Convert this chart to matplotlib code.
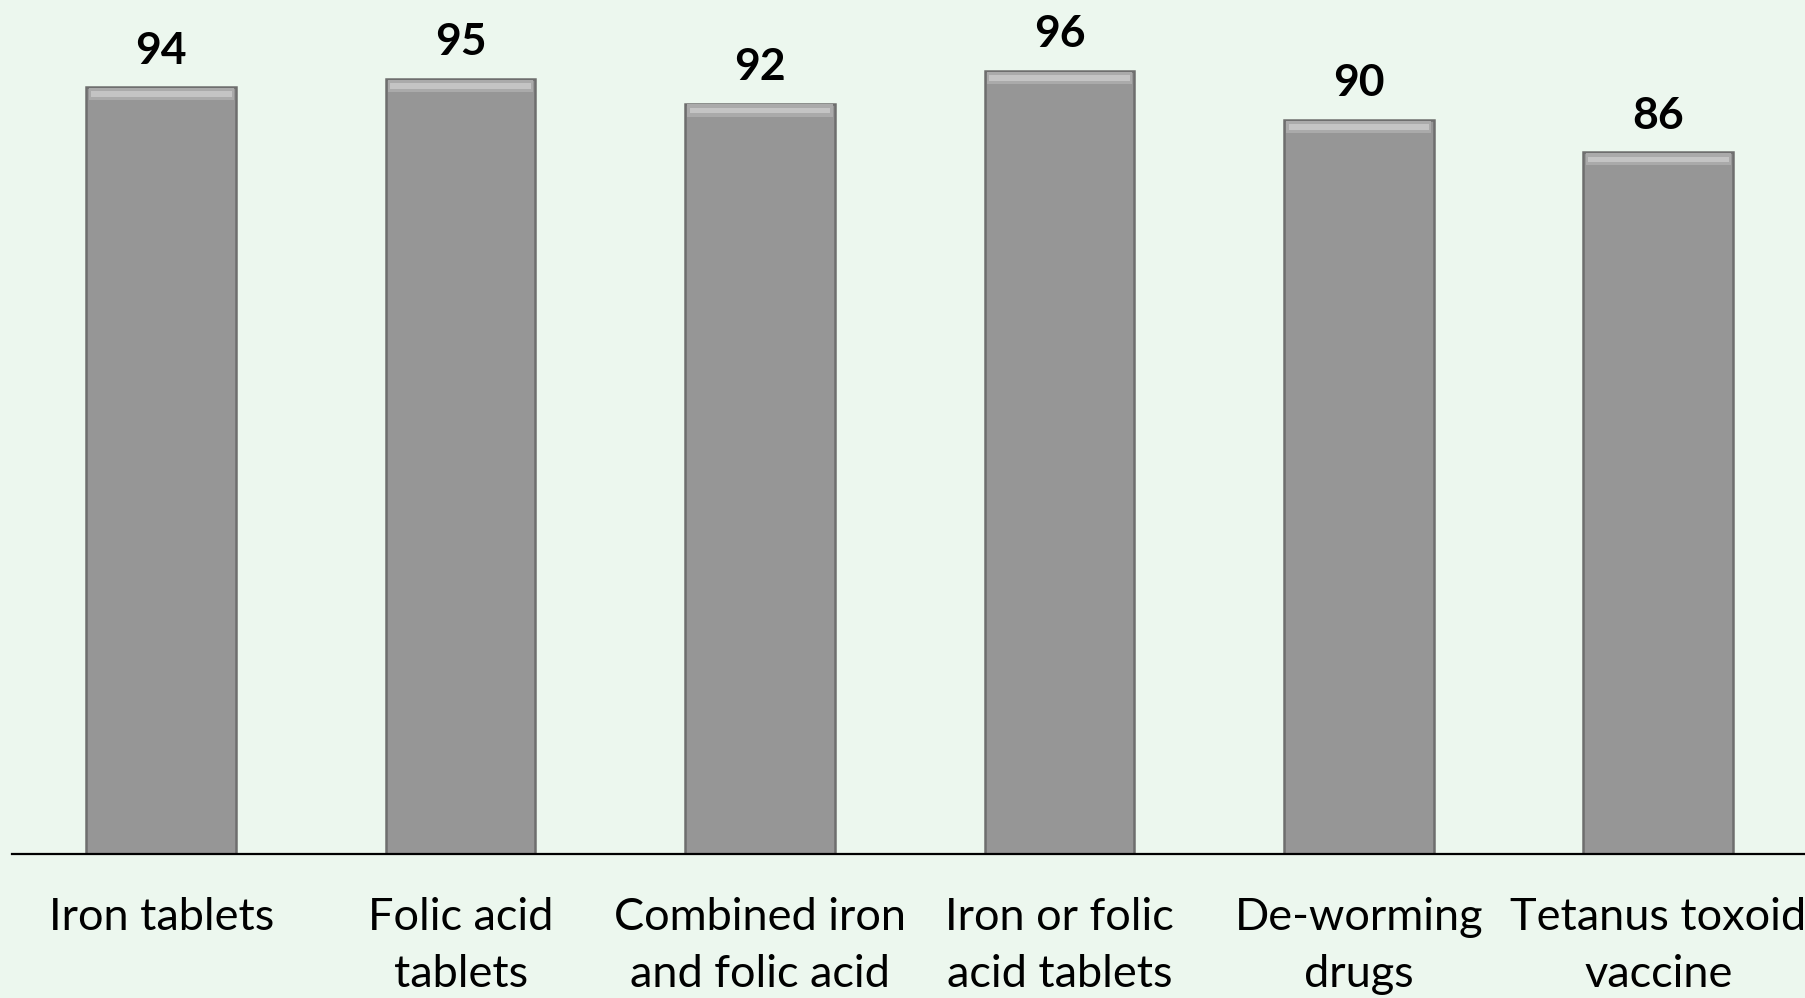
import matplotlib
matplotlib.use("Agg")
import matplotlib.pyplot as plt
import numpy as np

categories = ["Iron tablets", "Folic acid\ntablets", "Combined iron\nand folic acid",
              "Iron or folic\nacid tablets", "De-worming\ndrugs", "Tetanus toxoid\nvaccine"]
values = [94, 95, 92, 96, 90, 86]

plt.rcParams['font.family'] = ['Lato', 'DejaVu Sans']

bg = '#ecf7ee'
fig = plt.figure(figsize=(18.06, 9.98), dpi=100, facecolor=bg)
ax = fig.add_axes([11.5 / 1806, 144.5 / 998, 1796.5 / 1806, 853.5 / 998])
ax.set_facecolor(bg)

x = np.arange(len(values))
vals = np.array(values, dtype=float)

# main bars
ax.bar(x, vals, width=0.5, color='#969696', edgecolor='#6e6e6e', linewidth=1.8, zorder=2)
# soft bevel highlight along the top of each bar
ax.bar(x, 1.5, bottom=vals - 1.6, width=0.485, color='#aaaaaa', linewidth=0, zorder=3)
ax.bar(x, 0.7, bottom=vals - 1.2, width=0.47, color='#c4c4c4', linewidth=0, zorder=3)

for xi, v in zip(x, values):
    ax.annotate(str(v), (xi, v), xytext=(0, 17), textcoords='offset points',
                ha='center', va='baseline', fontsize=32, fontweight='bold', color='black')

ax.set_xlim(-0.5, 5.5)
ax.set_ylim(0, 104.7)
ax.set_xticks(x)
ax.set_xticklabels(categories, fontsize=32.5, linespacing=1.5)
ax.tick_params(axis='x', length=0, pad=31)
ax.set_yticks([])
for s in ['top', 'right', 'left']:
    ax.spines[s].set_visible(False)
ax.spines['bottom'].set_linewidth(1.6)
ax.spines['bottom'].set_zorder(4)

fig.savefig('out.png', dpi=100, facecolor=bg)
